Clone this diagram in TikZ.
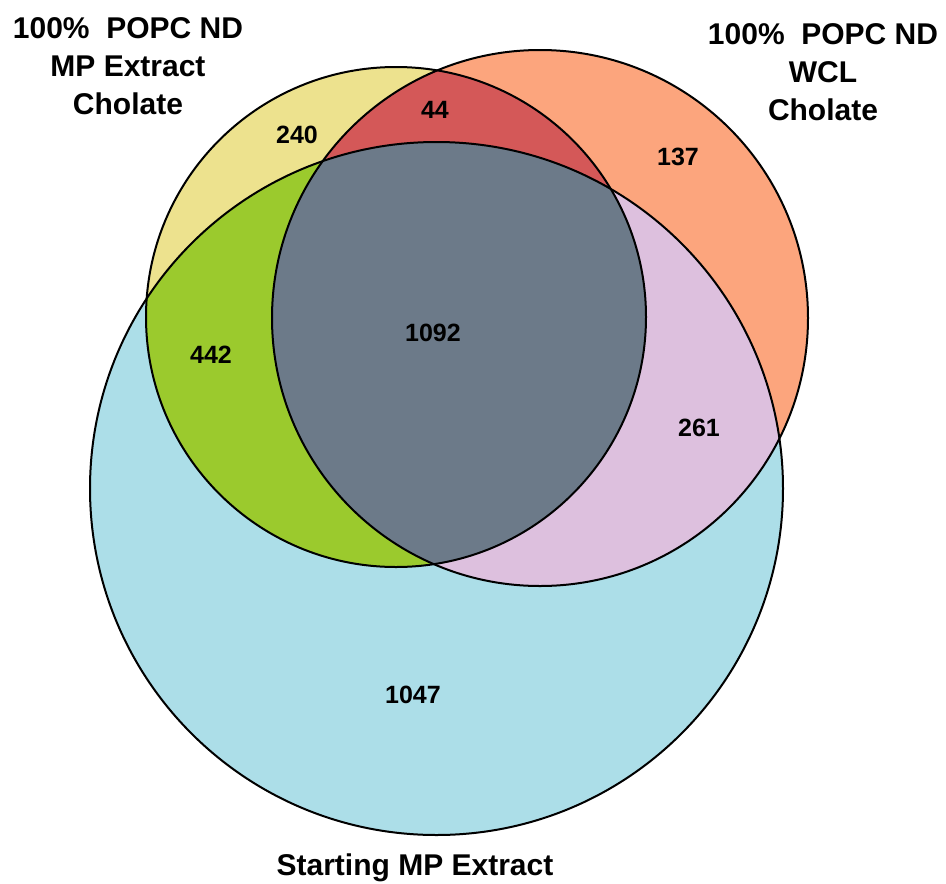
\documentclass[tikz,border=0pt]{standalone}
\usepackage{fontspec}
\setmainfont{Liberation Sans}
\definecolor{setYellow}{RGB}{237,226,142}
\definecolor{setOrange}{RGB}{252,165,125}
\definecolor{setBlue}{RGB}{172,222,232}
\definecolor{setRed}{RGB}{212,88,88}
\definecolor{setGreen}{RGB}{155,202,45}
\definecolor{setPink}{RGB}{221,192,222}
\definecolor{setGray}{RGB}{108,122,137}

\begin{document}
\begin{tikzpicture}[x=1pt, y=-1pt,
	every node/.style={font=\bfseries\fontsize{25}{30}\selectfont},
	setlabel/.style={align=center, font=\bfseries\fontsize{30}{38}\selectfont},
	rim/.style={draw=black, line width=2pt}]
	\useasboundingbox (0,0) rectangle (946,884);
	% centres of the three sets
	\coordinate (mpc) at (396,317);
	\coordinate (wcl) at (540,318);
	\coordinate (start) at (436.5,488.5);
	% single sets
	\fill[setBlue] (start) circle (346.5pt);
	\fill[setYellow] (mpc) circle (250pt);
	\fill[setOrange] (wcl) circle (268pt);
	% pairwise overlaps
	\begin{scope}
		\clip (mpc) circle (250pt);
		\fill[setRed] (wcl) circle (268pt);
		\fill[setGreen] (start) circle (346.5pt);
	\end{scope}
	\begin{scope}
		\clip (wcl) circle (268pt);
		\fill[setPink] (start) circle (346.5pt);
	\end{scope}
	% all three
	\begin{scope}
		\clip (mpc) circle (250pt);
		\clip (wcl) circle (268pt);
		\fill[setGray] (start) circle (346.5pt);
	\end{scope}
	\draw[rim] (start) circle (346.5pt);
	\draw[rim] (mpc) circle (250pt);
	\draw[rim] (wcl) circle (268pt);
	% counts
	\node (n240) at (297,135) {240};
	\node (n44) at (435,110) {44};
	\node (n137) at (678,157) {137};
	\node (n442) at (211,355) {442};
	\node (n1092) at (433,333) {1092};
	\node (n261) at (699,428) {261};
	\node (n1047) at (413,695) {1047};
	% set names
	\node[setlabel] (labMP) at (128,66) {100\%\ \ POPC ND\\MP Extract\\Cholate};
	\node[setlabel] (labWCL) at (823,72) {100\%\ \ POPC ND\\WCL\\Cholate};
	\node[setlabel, anchor=base] (labStart) at (415,875) {Starting MP Extract};
\end{tikzpicture}
\end{document}
